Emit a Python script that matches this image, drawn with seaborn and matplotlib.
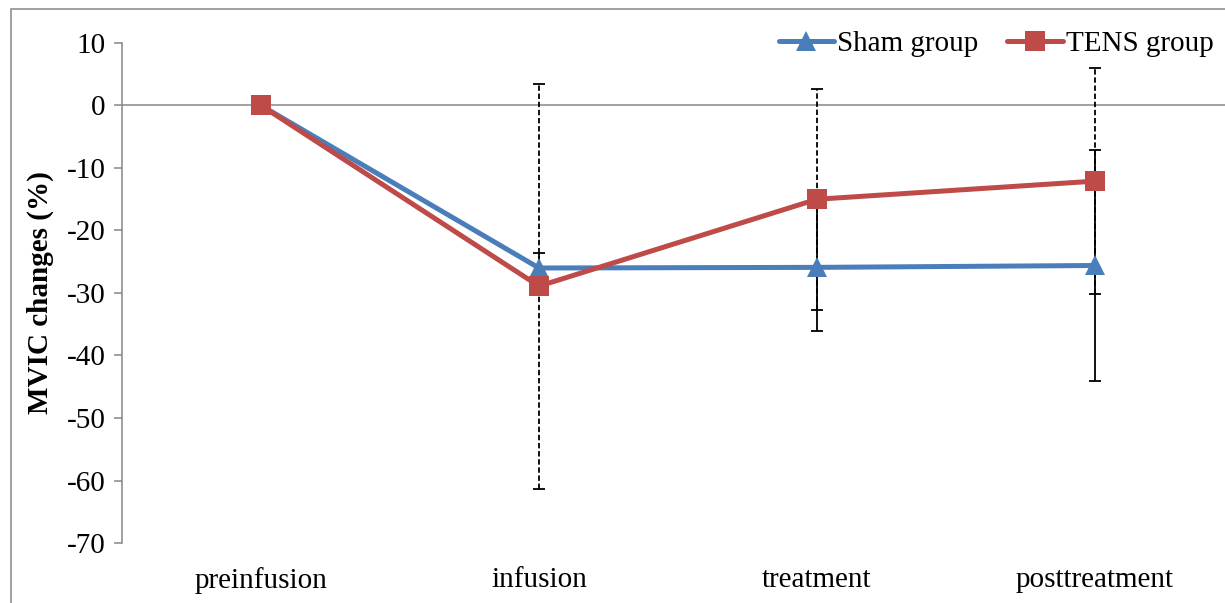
import pandas as pd
import seaborn as sns
import matplotlib.pyplot as plt
from matplotlib.patches import Rectangle


stages = ['preinfusion', 'infusion', 'treatment', 'posttreatment']
sham_mean = [0, -26.0, -25.9, -25.6]
sham_sd = [0, 2.4, 10.2, 18.5]
tens_mean = [0, -28.9, -15.0, -12.1]
tens_sd = [0, 32.4, 17.7, 18.1]
yticks = [10, 0, -10, -20, -30, -40, -50, -60, -70]


def plot_mvic(df):
    fig = plt.figure(figsize=(12.25, 6.03), dpi=100)
    ax = fig.add_axes([0.0996, 0.0995, 0.9077, 0.8292])

    x = list(range(len(stages)))
    # error bars first so the markers sit on top
    ax.errorbar(x, sham_mean, yerr=sham_sd, fmt='none', ecolor='black',
                elinewidth=1.3, capsize=4.3, capthick=1.3, zorder=1)
    eb = ax.errorbar(x, tens_mean, yerr=tens_sd, fmt='none', ecolor='black',
                     elinewidth=1.3, capsize=4.3, capthick=1.3, zorder=1)
    eb[2][0].set_linestyle((0, (3, 1.5)))

    sns.lineplot(data=df, x='stage', y='value', hue='group', style='group',
                 markers={'Sham group': '^', 'TENS group': 's'}, dashes=False,
                 palette={'Sham group': '#4A7EBB', 'TENS group': '#BE4B48'},
                 linewidth=3.6, markersize=15, markeredgewidth=0,
                 sort=False, ax=ax, zorder=3)

    ax.axhline(0, color='#868686', linewidth=1.1, zorder=0)

    ax.set_xlim(-0.5, 3.5)
    ax.set_ylim(-70, 10)
    ax.set_yticks(yticks)
    ax.set_yticklabels([str(t) for t in yticks])
    ax.set_xticks(x)
    ax.set_xticklabels(stages)
    ax.tick_params(axis='x', length=0, pad=17, labelsize=21, labelcolor='black')
    ax.tick_params(axis='y', left=True, length=5.8, width=1.1, color='#868686',
                   pad=6, labelsize=21, labelcolor='black')

    for side in ['top', 'right', 'bottom']:
        ax.spines[side].set_visible(False)
    ax.spines['left'].set_color('#868686')
    ax.spines['left'].set_linewidth(1.1)

    ax.set_xlabel('')
    ax.set_ylabel('MVIC changes (%)', fontsize=21, fontweight='bold',
                  labelpad=9, color='black')

    sns.move_legend(ax, 'upper right', bbox_to_anchor=(1.012, 0.992),
                    bbox_transform=fig.transFigure, ncol=2, frameon=False,
                    title=None, fontsize=21, handlelength=1.9,
                    columnspacing=1.0, handletextpad=0.1)
    for t in ax.get_legend().get_texts():
        t.set_color('black')

    fig.patches.append(Rectangle((0.009, -0.1), 1.2, 0.985 + 0.1,
                                 transform=fig.transFigure, fill=False,
                                 edgecolor='#868686', linewidth=1.1))

    fig.savefig('out.png', dpi=100)


if __name__ == '__main__':

    sns.set_style('white')
    plt.rcParams['font.family'] = ['Liberation Serif', 'DejaVu Serif']

    rows = []
    for stage, s, t in zip(stages, sham_mean, tens_mean):
        rows.append({'stage': stage, 'group': 'Sham group', 'value': s})
        rows.append({'stage': stage, 'group': 'TENS group', 'value': t})
    df = pd.DataFrame(rows)

    plot_mvic(df)
